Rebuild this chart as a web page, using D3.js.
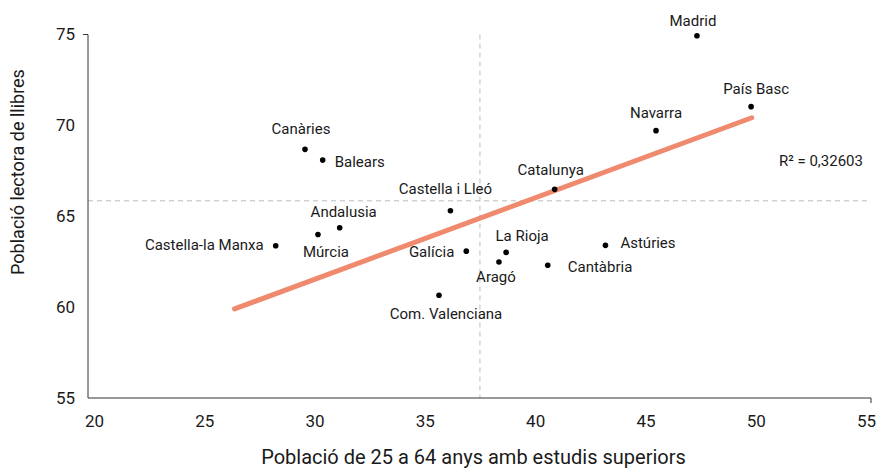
<!DOCTYPE html>
<html><head><meta charset="utf-8">
<script src="https://cdn.jsdelivr.net/npm/d3@7"></script>
<style>body{margin:0;background:#fff}svg{display:block}</style></head>
<body><svg id="c" width="877" height="468"></svg>
<script>
// ---- data ----
const regions = ["Madrid","País Basc","Navarra","Catalunya","Castella i Lleó","Andalusia","Múrcia","Galícia","La Rioja","Aragó","Cantàbria","Astúries","Com. Valenciana","Castella-la Manxa","Canàries","Balears"];
const xValues = [47.22,49.64,45.39,40.86,36.20,31.25,30.28,36.91,38.69,38.37,40.55,43.13,35.69,28.39,29.70,30.49];
const yValues = [74.93,71.03,69.71,66.48,65.30,64.37,64.00,63.08,63.01,62.48,62.30,63.40,60.65,63.38,68.68,68.09];
const xTicks = [20,25,30,35,40,45,50,55];
const yTicks = [55,60,65,70,75];
const trendX = [26.55,49.67];
const trendY = [59.90,70.42];
const meanX = 37.52, meanY = 65.85;
const r2Text = "R² = 0,32603";
const xTitle = "Població de 25 a 64 anys amb estudis superiors";
const yTitle = "Població lectora de llibres";
// label placement (pixel offsets from dot, anchor)
const labelDx = [-4,5,0,-4,-5,4,8,-12,16,-3,20,15,7,-12,-4,12];
const labelDy = [-10,-13,-13,-14,-17,-11,23,6,-11,20,7,3,24,4.5,-15,7];
const labelAnchor = ["middle","middle","middle","middle","middle","middle","middle","end","middle","middle","start","start","middle","end","middle","start"];

// ---- chart ----
const svg = d3.select("#c");
const x = d3.scaleLinear().domain([20,55]).range([88,871]);
const y = d3.scaleLinear().domain([55,75]).range([398,34.5]);
const font = "Roboto, 'Noto Sans', sans-serif";

// mean lines
svg.append("line").attr("x1",x(meanX)).attr("x2",x(meanX)).attr("y1",y(75)).attr("y2",y(55))
  .attr("stroke","#bdbdbd").attr("stroke-width",1).attr("stroke-dasharray","5,4");
svg.append("line").attr("x1",x(20)).attr("x2",x(55)).attr("y1",y(meanY)).attr("y2",y(meanY))
  .attr("stroke","#bdbdbd").attr("stroke-width",1).attr("stroke-dasharray","5,4");

// axes
const yAxis = svg.append("g").attr("transform",`translate(${x(20)},0)`)
  .call(d3.axisLeft(y).tickValues(yTicks).tickSize(0).tickPadding(13));
yAxis.select(".domain").attr("d",`M-5,${y(75)}H0V${y(55)}`).attr("stroke","#333");
const xAxis = svg.append("g").attr("transform",`translate(0,${y(55)})`)
  .call(d3.axisBottom(x).tickValues(xTicks).tickSize(0).tickPadding(17));
xAxis.select(".domain").attr("d",`M${x(20)},0H${x(55)}V5`).attr("stroke","#333");
// labels spread slightly inward like the original
xAxis.selectAll(".tick text").attr("dx",(d,i)=>6 - i*11/(xTicks.length-1));
svg.selectAll(".tick text").attr("font-family",font).attr("font-size",17).attr("fill","#1a1a1a");

// trend line
svg.append("line").attr("x1",x(trendX[0])).attr("y1",y(trendY[0])).attr("x2",x(trendX[1])).attr("y2",y(trendY[1]))
  .attr("stroke","#f08a6e").attr("stroke-width",5).attr("stroke-linecap","round");

// points
const idx = d3.range(regions.length);
svg.append("g").selectAll("circle").data(idx).join("circle")
  .attr("cx",i=>x(xValues[i])).attr("cy",i=>y(yValues[i])).attr("r",2.8).attr("fill","#000");
svg.append("g").selectAll("text").data(idx).join("text")
  .attr("x",i=>x(xValues[i])+labelDx[i]).attr("y",i=>y(yValues[i])+labelDy[i])
  .attr("text-anchor",i=>labelAnchor[i])
  .attr("font-family",font).attr("font-size",15).attr("fill","#1a1a1a")
  .text(i=>regions[i]);

// R2 label
svg.append("text").attr("x",779).attr("y",166).attr("font-family",font).attr("font-size",15)
  .attr("fill","#1a1a1a").text(r2Text);

// axis titles
svg.append("text").attr("x",473.5).attr("y",464).attr("text-anchor","middle")
  .attr("font-family",font).attr("font-size",20).attr("fill","#1a1a1a").text(xTitle);
svg.append("text").attr("transform","translate(24,172) rotate(-90)").attr("text-anchor","middle")
  .attr("font-family",font).attr("font-size",18).attr("fill","#1a1a1a").text(yTitle);
</script></body></html>
